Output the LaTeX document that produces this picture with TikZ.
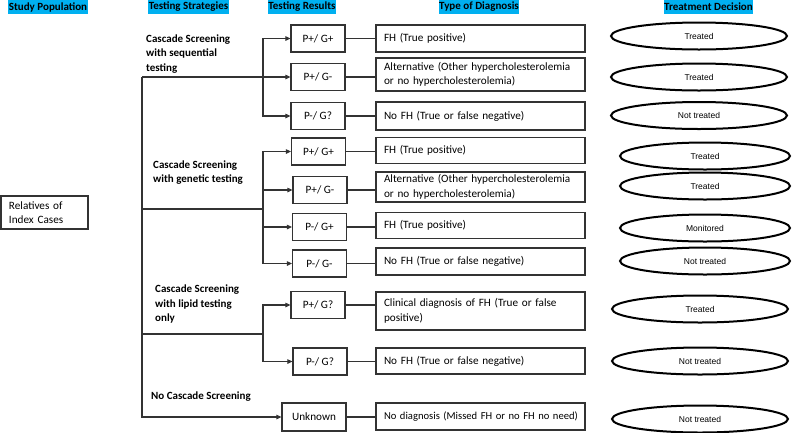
\documentclass[tikz,border=0pt]{standalone}
\usepackage{fontspec}
\setmainfont{Carlito}
\newfontfamily\arialf{Liberation Sans}
\usetikzlibrary{shapes.geometric,arrows.meta}
\definecolor{hdrblue}{HTML}{00B0F0}
\definecolor{lnc}{HTML}{333333}
\tikzset{
  conn/.style={draw=lnc, line width=1.1pt},
  arr/.style={conn, -{Triangle[length=5pt,width=4.5pt]}},
  res/.style={draw=lnc, line width=1.2pt, minimum width=54pt, minimum height=27pt, inner sep=0pt, font=\fontsize{11.2}{13}\selectfont},
  diag/.style={draw=lnc, line width=1.2pt, text width=193pt, align=left, inner xsep=8pt, inner ysep=0pt, font=\fontsize{11.2}{14.5}\selectfont},
  ell/.style={ellipse, draw=black, line width=2pt, minimum width=176pt, minimum height=27pt, inner sep=0pt, font=\arialf\fontsize{8.5}{10}\selectfont},
  hdr/.style={fill=hdrblue, inner xsep=0.5pt, inner ysep=0pt, minimum height=14pt, font=\bfseries\fontsize{11}{12}\selectfont},
  strat/.style={anchor=west, align=left, inner sep=0pt, font=\bfseries\fontsize{11}{14.5}\selectfont},
}
\begin{document}
\begin{tikzpicture}[x=1pt,y=-1pt]
\useasboundingbox (0,0) rectangle (792,432);
% headers
\node[hdr] (h1) at (48,7) {Study Population};
\node[hdr] (h2) at (188.5,7) {Testing Strategies};
\node[hdr] (h3) at (302,7) {Testing Results};
\node[hdr] (h4) at (479,7) {Type of Diagnosis};
\node[hdr] (h5) at (708.5,7) {Treatment Decision};
% study population
\node[draw=lnc, line width=1.2pt, minimum width=87pt, minimum height=33pt, text width=71pt, inner xsep=8pt, align=left, font=\fontsize{11.2}{14}\selectfont] (rel) at (44.5,212.5) {Relatives of\\Index Cases};
% strategy labels
\node[strat] (s1) at (146,54) {Cascade Screening\\with sequential\\testing};
\node[strat] (s2) at (153,172.5) {Cascade Screening\\with genetic testing};
\node[strat] (s3) at (155,304) {Cascade Screening\\with lipid testing\\only};
\node[strat] (s4) at (151,397) {No Cascade Screening};
% result boxes
\node[res] (r11) at (318,38.5) {P+/ G+};
\node[res] (r12) at (318,77) {P+/ G-};
\node[res] (r13) at (318,116) {P-/ G?};
\node[res] (r21) at (318.5,151.5) {P+/ G+};
\node[res] (r22) at (320,190) {P+/ G-};
\node[res] (r23) at (319.5,227) {P-/ G+};
\node[res] (r24) at (319.5,263.5) {P-/ G-};
\node[res] (r31) at (318,305) {P+/ G?};
\node[res] (r32) at (320,361.5) {P-/ G?};
\node[res, minimum width=64pt, minimum height=28pt] (r41) at (314,417) {Unknown};
% diagnosis boxes
\node[diag, minimum height=27pt] (d11) at (480.5,38.5) {FH (True positive)};
\node[diag, minimum height=33pt] (d12) at (480.5,74.5) {Alternative (Other hypercholesterolemia\\or no hypercholesterolemia)};
\node[diag, minimum height=28pt] (d13) at (480.5,116) {No FH (True or false negative)};
\node[diag, minimum height=26pt] (d21) at (480.5,150.5) {FH (True positive)};
\node[diag, minimum height=30pt] (d22) at (480.5,187) {Alternative (Other hypercholesterolemia\\or no hypercholesterolemia)};
\node[diag, minimum height=26pt] (d23) at (480.5,225.5) {FH (True positive)};
\node[diag, minimum height=27pt] (d24) at (480.5,261.5) {No FH (True or false negative)};
\node[diag, minimum height=38pt] (d31) at (480.5,311) {Clinical diagnosis of FH (True or false\\positive)};
\node[diag, minimum height=26pt] (d32) at (480.5,361) {No FH (True or false negative)};
\node[diag, minimum height=27pt, font=\fontsize{10.6}{14}\selectfont] (d41) at (480.5,416.5) {\makebox[193pt][l]{No diagnosis (Missed FH or no FH no need)}};
% ellipses
\node[ell] (e11) at (699,36) {Treated};
\node[ell] (e12) at (699,77) {Treated};
\node[ell] (e13) at (699,115.5) {Not treated};
\node[ell, minimum width=170pt] (e21) at (705,156) {Treated};
\node[ell, minimum width=170pt] (e22) at (705,186) {Treated};
\node[ell, minimum width=170pt] (e23) at (705,228) {Monitored};
\node[ell, minimum width=170pt] (e24) at (705,261) {Not treated};
\node[ell] (e31) at (700,309) {Treated};
\node[ell] (e32) at (700,361) {Not treated};
\node[ell] (e41) at (700,419) {Not treated};
% trunk and branch points
\coordinate (c1) at (142,77);
\coordinate (b1) at (263,77);
\coordinate (c2) at (142,209);
\coordinate (b2) at (263,209);
\coordinate (c3) at (142,334);
\coordinate (b3) at (263,334);
\draw[arr] (c1) |- (r41.west);
\draw[arr] (c1) -- (r12.west);
\draw[arr] (b1) |- (r11.west);
\draw[arr] (b1) |- (r13.west);
\draw[conn] (c2) -- (b2);
\draw[arr] (b2) |- (r21.west);
\draw[arr] (b2) |- (r22.west);
\draw[arr] (b2) |- (r23.west);
\draw[arr] (b2) |- (r24.west);
\draw[conn] (c3) -- (b3);
\draw[arr] (b3) |- (r31.west);
\draw[arr] (b3) |- (r32.west);
% result to diagnosis
\foreach \r/\d in {r11/d11,r12/d12,r13/d13,r21/d21,r22/d22,r23/d23,r24/d24,r31/d31,r32/d32,r41/d41}
  \draw[conn] (\r.east) -- (\r.east -| \d.west);
\end{tikzpicture}
\end{document}
